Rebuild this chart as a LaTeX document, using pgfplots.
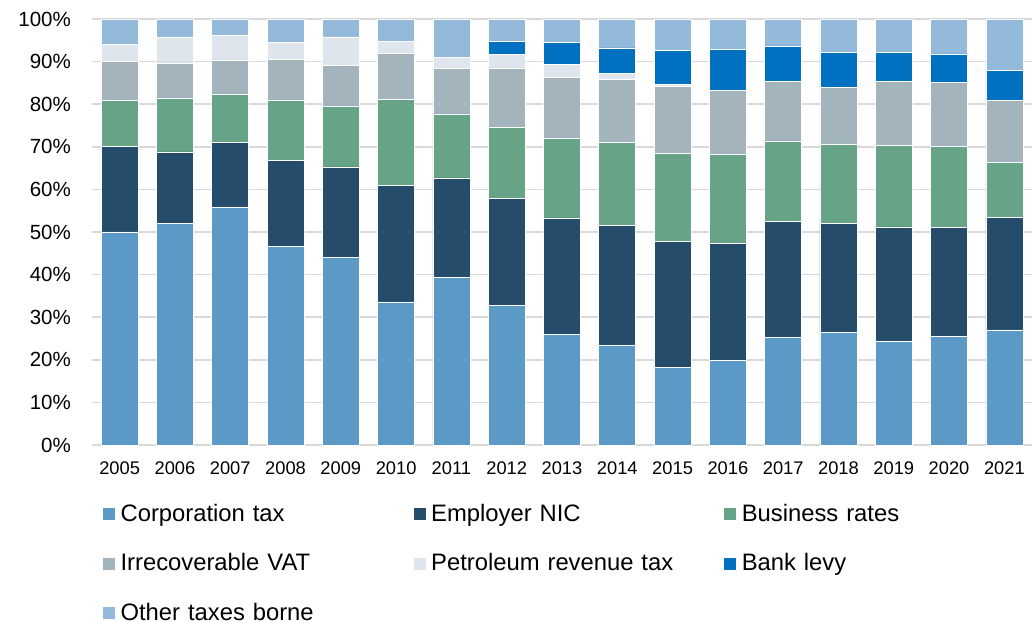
\documentclass[border=0pt]{standalone}
\usepackage{pgfplots}
\pgfplotsset{compat=1.18}
\usepackage{pgfplotstable}
\usepackage{fontspec}
\setmainfont{Liberation Sans}
\definecolor{cCorp}{HTML}{5B9AC6}
\definecolor{cNIC}{HTML}{254C6A}
\definecolor{cBiz}{HTML}{66A387}
\definecolor{cVAT}{HTML}{A4B4BD}
\definecolor{cPRT}{HTML}{DEE5EC}
\definecolor{cBank}{HTML}{0070C0}
\definecolor{cOther}{HTML}{94BADB}
\definecolor{cGrid}{HTML}{D9D9D9}
\newcommand\ytfont{\fontsize{20.5bp}{24bp}\selectfont}
\newcommand\xtfont{\fontsize{18.3bp}{22bp}\selectfont}
\newcommand\legfont{\fontsize{23.8bp}{28bp}\selectfont}
\pgfplotstableread{
x corp nic biz vat prt bank other
0 50.0 20.0 11.0 9.0 4.1 0 5.9
1 52.1 16.7 12.7 8.2 5.9 0 4.4
2 55.9 15.1 11.4 8.0 5.7 0 3.9
3 46.7 20.2 14.1 9.6 4.0 0 5.4
4 44.1 21.2 14.3 9.6 6.6 0 4.2
5 33.6 27.4 20.2 10.7 2.9 0 5.2
6 39.4 23.3 15.0 10.7 2.6 0 9.0
7 32.8 25.1 16.7 13.9 3.2 3.1 5.2
8 26.0 27.3 18.8 14.1 3.2 5.2 5.4
9 23.5 28.0 19.5 14.9 1.4 5.9 6.8
10 18.3 29.4 20.8 15.7 0.5 8.0 7.3
11 19.8 27.5 20.9 15.1 0 9.6 7.1
12 25.3 27.1 19.0 14.0 0 8.3 6.3
13 26.5 25.6 18.6 13.3 0 8.1 7.9
14 24.4 26.8 19.1 15.1 0 6.7 7.9
15 25.5 25.5 19.0 15.2 0 6.6 8.2
16 27.0 26.5 12.8 14.5 0 7.1 12.1
}\data
\begin{document}
\begin{tikzpicture}
\useasboundingbox (-92bp,-177bp) rectangle (943bp,445bp);
\begin{axis}[
  at={(0,0)}, anchor=south west,
  scale only axis, width=940bp, height=426bp,
  ybar stacked, bar width=37bp,
  xmin=-0.5, xmax=16.5, ymin=0, ymax=100,
  xtick=data,
  xticklabels={2005,2006,2007,2008,2009,2010,2011,2012,2013,2014,2015,2016,2017,2018,2019,2020,2021},
  ytick={0,10,...,100},
  yticklabels={0\%,10\%,20\%,30\%,40\%,50\%,60\%,70\%,80\%,90\%,100\%},
  major tick length=0pt,
  axis line style={draw=none},
  ymajorgrids, major grid style={cGrid, line width=1.5bp},
  yticklabel style={font=\ytfont, anchor=east, inner sep=0pt, text depth=0pt, xshift=-21bp},
  xticklabel style={font=\xtfont, anchor=north, inner sep=0pt, text height=13bp, text depth=0pt, yshift=-16bp},
  every axis plot/.append style={draw=white, line width=0.6bp},
  legend columns=3,
  legend image code/.code={\fill[#1] (0bp,-5bp) rectangle (13bp,8bp);},
  legend style={at={(0,0)}, anchor=north west, xshift=10bp, yshift=-59.5bp,
    draw=none, fill=none, inner sep=0pt, outer sep=0pt,
    row sep=27.4bp, column sep=5bp, font=\legfont,
    nodes={inner sep=0pt, text height=17bp, text depth=5bp},
    /tikz/every even column/.append style={text width=287bp}},
]
\addplot[fill=cCorp] table[x=x,y=corp]{\data};
\addlegendentry{Corporation tax}
\addplot[fill=cNIC] table[x=x,y=nic]{\data};
\addlegendentry{Employer NIC}
\addplot[fill=cBiz] table[x=x,y=biz]{\data};
\addlegendentry{Business rates}
\addplot[fill=cVAT] table[x=x,y=vat]{\data};
\addlegendentry{Irrecoverable VAT}
\addplot[fill=cPRT] table[x=x,y=prt]{\data};
\addlegendentry{Petroleum revenue tax}
\addplot[fill=cBank] table[x=x,y=bank]{\data};
\addlegendentry{Bank levy}
\addplot[fill=cOther] table[x=x,y=other]{\data};
\addlegendentry{Other taxes borne}
\end{axis}
\end{tikzpicture}
\end{document}
